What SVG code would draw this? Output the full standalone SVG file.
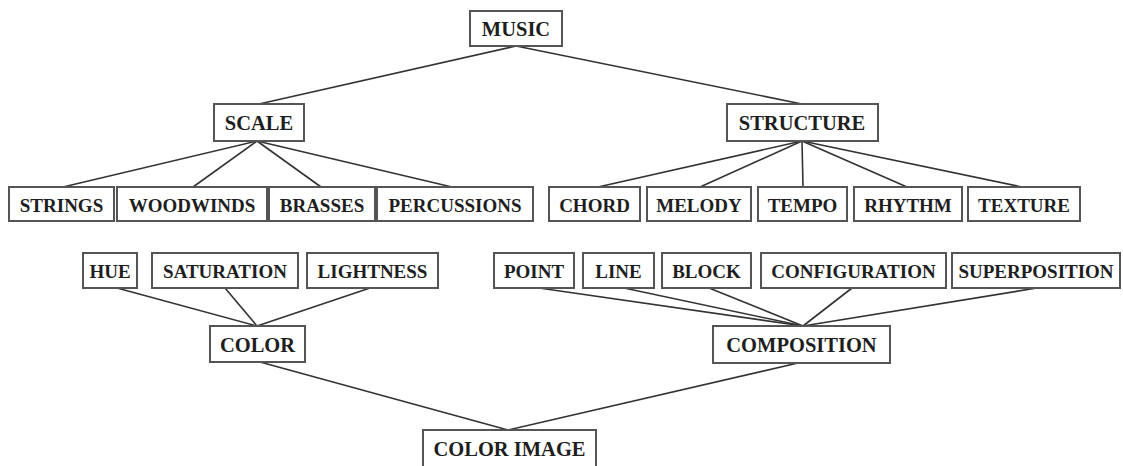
<svg xmlns="http://www.w3.org/2000/svg" width="1123" height="466" viewBox="0 0 1123 466">
  <style>
    rect { fill: #ffffff; stroke: #555555; stroke-width: 2; }
    text { font-family: "Liberation Serif", "Times New Roman", serif; font-weight: bold; fill: #1e1e1e; text-anchor: middle; dominant-baseline: central; }
    .leaf text { font-size: 19px; }
    .hub text { font-size: 20.5px; }
    #connectors line { stroke: #333333; stroke-width: 1.6; }
  </style>
  <rect x="0" y="0" width="1123" height="466" style="fill:#ffffff;stroke:none"/>

  <!-- connectors -->
  <g id="connectors">
    <line x1="516" y1="46" x2="259" y2="104"/>
    <line x1="516" y1="46" x2="802" y2="104"/>
    <line x1="257" y1="141" x2="63" y2="187"/>
    <line x1="257" y1="141" x2="193" y2="187"/>
    <line x1="257" y1="141" x2="321" y2="187"/>
    <line x1="257" y1="141" x2="452" y2="187"/>
    <line x1="802" y1="141" x2="598" y2="187"/>
    <line x1="802" y1="141" x2="700" y2="187"/>
    <line x1="802" y1="141" x2="803" y2="187"/>
    <line x1="802" y1="141" x2="907" y2="187"/>
    <line x1="802" y1="141" x2="1022" y2="187"/>
    <line x1="117" y1="288" x2="257" y2="326"/>
    <line x1="225" y1="288" x2="257" y2="326"/>
    <line x1="370" y1="288" x2="257" y2="326"/>
    <line x1="539" y1="288" x2="803" y2="326"/>
    <line x1="624" y1="288" x2="803" y2="326"/>
    <line x1="709" y1="288" x2="803" y2="326"/>
    <line x1="852" y1="288" x2="803" y2="326"/>
    <line x1="1037" y1="288" x2="803" y2="326"/>
    <line x1="260" y1="362" x2="508" y2="430"/>
    <line x1="798" y1="363" x2="508" y2="430"/>
  </g>

  <!-- top level -->
  <g id="music" class="hub"><rect x="470" y="11" width="92" height="35"/><text x="516" y="29">MUSIC</text></g>

  <!-- second level -->
  <g id="scale" class="hub"><rect x="214" y="104" width="90" height="37"/><text x="259" y="123">SCALE</text></g>
  <g id="structure" class="hub"><rect x="727" y="104" width="151" height="37"/><text x="802" y="123">STRUCTURE</text></g>

  <!-- instruments -->
  <g id="strings" class="leaf"><rect x="9" y="187" width="105" height="34"/><text x="61.5" y="205">STRINGS</text></g>
  <g id="woodwinds" class="leaf"><rect x="117" y="187" width="150" height="34"/><text x="192" y="205">WOODWINDS</text></g>
  <g id="brasses" class="leaf"><rect x="269" y="187" width="106" height="34"/><text x="322" y="205">BRASSES</text></g>
  <g id="percussions" class="leaf"><rect x="377" y="187" width="156" height="34"/><text x="455" y="205">PERCUSSIONS</text></g>

  <!-- structure elements -->
  <g id="chord" class="leaf"><rect x="549" y="187" width="91" height="34"/><text x="594.5" y="205">CHORD</text></g>
  <g id="melody" class="leaf"><rect x="647" y="187" width="104" height="34"/><text x="699" y="205">MELODY</text></g>
  <g id="tempo" class="leaf"><rect x="758" y="187" width="89" height="34"/><text x="802.5" y="205">TEMPO</text></g>
  <g id="rhythm" class="leaf"><rect x="854" y="187" width="108" height="34"/><text x="908" y="205">RHYTHM</text></g>
  <g id="texture" class="leaf"><rect x="968" y="187" width="112" height="34"/><text x="1024" y="205">TEXTURE</text></g>

  <!-- color attributes -->
  <g id="hue" class="leaf"><rect x="83" y="253" width="54" height="35"/><text x="110" y="271">HUE</text></g>
  <g id="saturation" class="leaf"><rect x="152" y="253" width="146" height="35"/><text x="225" y="271">SATURATION</text></g>
  <g id="lightness" class="leaf"><rect x="307" y="253" width="131" height="35"/><text x="372.5" y="271">LIGHTNESS</text></g>

  <!-- composition elements -->
  <g id="point" class="leaf"><rect x="494" y="253" width="80" height="35"/><text x="534" y="271">POINT</text></g>
  <g id="line" class="leaf"><rect x="583" y="253" width="71" height="35"/><text x="618.5" y="271">LINE</text></g>
  <g id="block" class="leaf"><rect x="662" y="253" width="89" height="35"/><text x="706.5" y="271">BLOCK</text></g>
  <g id="configuration" class="leaf"><rect x="761" y="253" width="185" height="35"/><text x="853.5" y="271">CONFIGURATION</text></g>
  <g id="superposition" class="leaf"><rect x="952" y="253" width="168" height="35"/><text x="1036" y="271">SUPERPOSITION</text></g>

  <!-- groupings -->
  <g id="color" class="hub"><rect x="210" y="326" width="95" height="36"/><text x="257.5" y="345">COLOR</text></g>
  <g id="composition" class="hub"><rect x="713" y="326" width="177" height="37"/><text x="801.5" y="345">COMPOSITION</text></g>

  <!-- result: box runs past the lower edge of the canvas -->
  <g id="color-image" class="hub"><rect x="423" y="430" width="173" height="40"/><text x="509.5" y="449">COLOR IMAGE</text></g>
</svg>
